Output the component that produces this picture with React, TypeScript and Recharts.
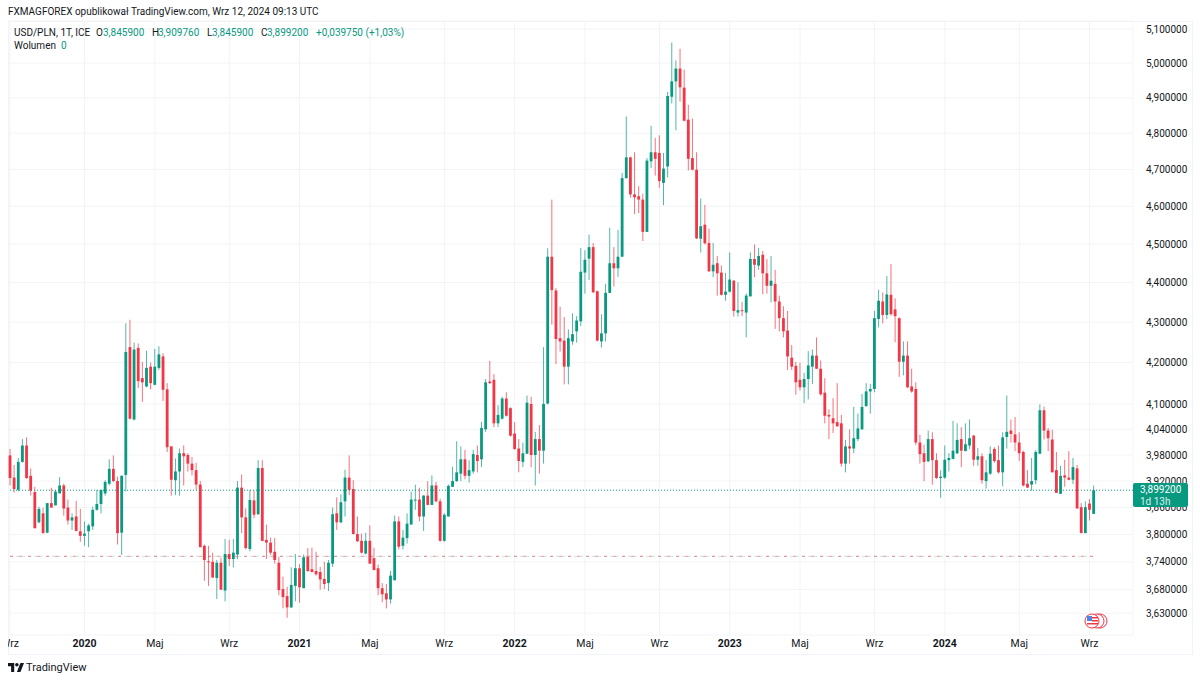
import { Bar, CartesianGrid, ComposedChart, ReferenceLine, XAxis, YAxis } from 'recharts'

const FONT = 'Roboto, "Noto Sans", sans-serif'
const UP = '#089981'
const DOWN = '#F23645'
const TEXT = '#131722'

// weekly USD/PLN candles
const opens = [
  3.979, 3.928, 3.9, 3.964, 4.002, 3.932, 3.895, 3.827, 3.847, 3.804,
  3.87, 3.865, 3.892, 3.91, 3.86, 3.831, 3.84, 3.807, 3.797, 3.807,
  3.818, 3.855, 3.868, 3.892, 3.914, 3.948, 3.92, 3.804, 3.934, 4.238,
  4.063, 4.236, 4.162, 4.142, 4.19, 4.146, 4.187, 4.215, 4.135, 4.0,
  3.922, 3.942, 3.984, 3.98, 3.96, 3.945, 3.912, 3.775, 3.741, 3.74,
  3.705, 3.738, 3.678, 3.757, 3.746, 3.756, 3.905, 3.838, 3.768, 3.876,
  3.845, 3.95, 3.788, 3.782, 3.762, 3.738, 3.681, 3.666, 3.642, 3.688,
  3.726, 3.683, 3.751, 3.724, 3.72, 3.718, 3.703, 3.694, 3.736, 3.847,
  3.827, 3.874, 3.928, 3.902, 3.801, 3.786, 3.758, 3.786, 3.748, 3.726,
  3.683, 3.672, 3.659, 3.7, 3.829, 3.775, 3.792, 3.822, 3.876, 3.878,
  3.84, 3.887, 3.866, 3.91, 3.874, 3.786, 3.84, 3.907, 3.92, 3.937,
  3.97, 3.932, 3.942, 3.98, 3.97, 4.04, 4.154, 4.158, 4.054, 4.065,
  4.113, 4.09, 4.03, 3.995, 3.964, 3.983, 4.1, 3.98, 4.017, 3.99,
  4.101, 4.467, 4.38, 4.26, 4.254, 4.19, 4.252, 4.277, 4.302, 4.426,
  4.462, 4.492, 4.378, 4.252, 4.272, 4.374, 4.45, 4.437, 4.467, 4.676,
  4.733, 4.632, 4.627, 4.618, 4.532, 4.722, 4.747, 4.745, 4.663, 4.708,
  4.903, 4.947, 4.984, 4.929, 4.838, 4.731, 4.699, 4.514, 4.551, 4.503,
  4.429, 4.45, 4.426, 4.369, 4.377, 4.405, 4.324, 4.33, 4.324, 4.365,
  4.461, 4.444, 4.472, 4.424, 4.392, 4.397, 4.352, 4.31, 4.279, 4.212,
  4.192, 4.158, 4.14, 4.16, 4.19, 4.217, 4.185, 4.127, 4.074, 4.066,
  4.057, 4.054, 3.96, 4.0, 3.995, 4.017, 4.04, 4.095, 4.13, 4.136,
  4.308, 4.352, 4.318, 4.369, 4.332, 4.31, 4.202, 4.217, 4.142, 4.136,
  4.009, 3.984, 3.965, 4.017, 3.968, 3.927, 3.928, 3.968, 3.971, 3.984,
  4.017, 3.989, 4.002, 4.025, 3.969, 3.977, 3.92, 3.937, 3.994, 3.968,
  3.94, 4.022, 4.037, 4.028, 4.009, 3.987, 3.914, 3.912, 3.922, 3.983,
  4.085, 4.037, 4.016, 3.945, 3.891, 3.933, 3.928, 3.923, 3.949, 3.861,
  3.803, 3.869, 3.8459,
]
const highs = [
  3.994, 3.957, 3.973, 4.017, 4.021, 3.949, 3.907, 3.862, 3.86, 3.87,
  3.905, 3.9, 3.929, 3.914, 3.878, 3.847, 3.875, 3.857, 3.829, 3.824,
  3.862, 3.9, 3.9, 3.922, 3.97, 3.979, 3.93, 3.933, 4.297, 4.306,
  4.249, 4.247, 4.202, 4.229, 4.2, 4.234, 4.24, 4.223, 4.15, 4.0,
  3.972, 3.995, 4.002, 3.984, 3.975, 3.962, 3.92, 3.778, 3.775, 3.76,
  3.744, 3.749, 3.79, 3.788, 3.79, 3.92, 3.935, 3.858, 3.9, 3.898,
  3.968, 3.968, 3.822, 3.793, 3.792, 3.751, 3.708, 3.686, 3.728, 3.757,
  3.735, 3.756, 3.77, 3.771, 3.762, 3.729, 3.74, 3.744, 3.86, 3.883,
  3.89, 3.946, 3.979, 3.922, 3.84, 3.802, 3.804, 3.82, 3.771, 3.734,
  3.694, 3.692, 3.72, 3.842, 3.84, 3.81, 3.847, 3.896, 3.912, 3.905,
  3.888, 3.92, 3.933, 3.918, 3.88, 3.847, 3.912, 3.953, 4.012, 4.0,
  3.992, 3.968, 3.992, 4.002, 4.057, 4.16, 4.204, 4.172, 4.097, 4.117,
  4.128, 4.092, 4.057, 4.017, 4.009, 4.12, 4.117, 4.034, 4.05, 4.238,
  4.489, 4.618, 4.386, 4.339, 4.313, 4.282, 4.322, 4.315, 4.49, 4.484,
  4.525, 4.503, 4.38, 4.32, 4.397, 4.543, 4.492, 4.537, 4.69, 4.847,
  4.735, 4.747, 4.654, 4.634, 4.731, 4.821, 4.787, 4.794, 4.745, 4.917,
  5.06, 5.008, 5.042, 4.981, 4.88, 4.841, 4.747, 4.621, 4.604, 4.541,
  4.503, 4.469, 4.444, 4.425, 4.478, 4.407, 4.401, 4.351, 4.372, 4.478,
  4.499, 4.49, 4.482, 4.461, 4.469, 4.433, 4.367, 4.34, 4.328, 4.243,
  4.202, 4.2, 4.175, 4.228, 4.232, 4.262, 4.205, 4.162, 4.087, 4.114,
  4.15, 4.074, 4.015, 4.04, 4.093, 4.077, 4.124, 4.15, 4.148, 4.328,
  4.382, 4.375, 4.417, 4.448, 4.36, 4.312, 4.252, 4.252, 4.185, 4.152,
  4.027, 4.004, 4.037, 4.033, 3.984, 3.945, 4.002, 3.984, 4.06, 4.054,
  4.045, 4.054, 4.063, 4.027, 3.996, 3.984, 3.968, 4.0, 3.998, 4.002,
  4.033, 4.12, 4.063, 4.069, 4.033, 3.99, 3.945, 3.973, 3.991, 4.099,
  4.094, 4.043, 4.039, 3.987, 3.955, 3.969, 3.989, 3.973, 3.957, 3.87,
  3.874, 3.879, 3.90976,
]
const lows = [
  3.91, 3.894, 3.896, 3.962, 3.925, 3.887, 3.813, 3.825, 3.802, 3.803,
  3.86, 3.865, 3.892, 3.842, 3.822, 3.81, 3.807, 3.784, 3.775, 3.772,
  3.81, 3.853, 3.847, 3.887, 3.91, 3.918, 3.778, 3.755, 3.896, 4.063,
  4.061, 4.138, 4.105, 4.14, 4.135, 4.145, 4.182, 4.107, 3.987, 3.887,
  3.888, 3.887, 3.91, 3.942, 3.933, 3.9, 3.772, 3.699, 3.688, 3.705,
  3.66, 3.679, 3.655, 3.731, 3.728, 3.746, 3.803, 3.767, 3.763, 3.836,
  3.844, 3.785, 3.746, 3.755, 3.736, 3.668, 3.64, 3.62, 3.641, 3.655,
  3.652, 3.683, 3.718, 3.717, 3.71, 3.68, 3.681, 3.677, 3.729, 3.81,
  3.825, 3.84, 3.888, 3.8, 3.783, 3.758, 3.756, 3.736, 3.722, 3.668,
  3.653, 3.64, 3.65, 3.7, 3.767, 3.767, 3.78, 3.822, 3.855, 3.829,
  3.808, 3.865, 3.866, 3.872, 3.784, 3.784, 3.84, 3.907, 3.918, 3.92,
  3.924, 3.917, 3.937, 3.94, 3.952, 4.034, 4.148, 4.045, 4.045, 4.063,
  4.07, 4.023, 3.992, 3.94, 3.952, 3.982, 3.952, 3.91, 3.937, 3.96,
  4.099, 4.294, 4.196, 4.227, 4.147, 4.147, 4.244, 4.249, 4.29, 4.372,
  4.407, 4.375, 4.252, 4.237, 4.252, 4.373, 4.39, 4.415, 4.466, 4.675,
  4.623, 4.579, 4.582, 4.508, 4.532, 4.704, 4.683, 4.65, 4.603, 4.678,
  4.884, 4.808, 4.889, 4.833, 4.697, 4.697, 4.513, 4.478, 4.499, 4.428,
  4.414, 4.367, 4.367, 4.354, 4.375, 4.314, 4.314, 4.315, 4.262, 4.365,
  4.414, 4.433, 4.37, 4.372, 4.35, 4.283, 4.277, 4.262, 4.182, 4.182,
  4.122, 4.132, 4.102, 4.111, 4.148, 4.184, 4.12, 4.054, 4.017, 4.031,
  4.046, 3.953, 3.94, 3.96, 3.984, 4.012, 4.039, 4.093, 4.077, 4.128,
  4.287, 4.297, 4.308, 4.316, 4.25, 4.165, 4.169, 4.138, 4.127, 4.003,
  3.96, 3.92, 3.965, 3.912, 3.925, 3.882, 3.925, 3.942, 3.97, 3.982,
  3.952, 3.989, 3.994, 3.955, 3.955, 3.914, 3.903, 3.934, 3.962, 3.937,
  3.908, 3.995, 4.009, 3.989, 3.966, 3.908, 3.905, 3.898, 3.913, 3.982,
  4.016, 3.989, 3.94, 3.893, 3.891, 3.907, 3.922, 3.913, 3.858, 3.803,
  3.803, 3.831, 3.8459,
]
const closes = [
  3.927, 3.902, 3.964, 4.002, 3.927, 3.898, 3.814, 3.857, 3.803, 3.87,
  3.86, 3.896, 3.91, 3.858, 3.831, 3.838, 3.808, 3.797, 3.802, 3.82,
  3.855, 3.868, 3.9, 3.918, 3.948, 3.92, 3.803, 3.932, 4.226, 4.065,
  4.232, 4.155, 4.152, 4.187, 4.15, 4.19, 4.22, 4.134, 3.998, 3.923,
  3.942, 3.984, 3.977, 3.96, 3.945, 3.912, 3.772, 3.744, 3.74, 3.706,
  3.738, 3.68, 3.757, 3.746, 3.76, 3.905, 3.838, 3.77, 3.877, 3.844,
  3.95, 3.786, 3.782, 3.76, 3.744, 3.679, 3.664, 3.642, 3.69, 3.726,
  3.685, 3.75, 3.72, 3.718, 3.713, 3.702, 3.692, 3.738, 3.845, 3.827,
  3.872, 3.928, 3.9, 3.801, 3.785, 3.76, 3.786, 3.736, 3.722, 3.683,
  3.67, 3.659, 3.71, 3.829, 3.773, 3.793, 3.824, 3.878, 3.878, 3.84,
  3.887, 3.866, 3.91, 3.874, 3.786, 3.844, 3.909, 3.92, 3.94, 3.97,
  3.932, 3.945, 3.982, 3.966, 4.043, 4.152, 4.15, 4.054, 4.074, 4.113,
  4.072, 4.025, 3.994, 3.966, 3.984, 4.103, 3.98, 4.017, 3.99, 4.1,
  4.467, 4.381, 4.258, 4.252, 4.19, 4.26, 4.27, 4.304, 4.428, 4.459,
  4.492, 4.375, 4.254, 4.272, 4.374, 4.45, 4.437, 4.467, 4.676, 4.733,
  4.632, 4.624, 4.618, 4.532, 4.724, 4.747, 4.729, 4.668, 4.702, 4.905,
  4.947, 4.984, 4.93, 4.835, 4.729, 4.699, 4.515, 4.547, 4.502, 4.429,
  4.446, 4.424, 4.369, 4.377, 4.408, 4.328, 4.33, 4.328, 4.367, 4.461,
  4.446, 4.469, 4.424, 4.392, 4.405, 4.352, 4.31, 4.277, 4.215, 4.19,
  4.152, 4.14, 4.16, 4.193, 4.217, 4.185, 4.123, 4.072, 4.07, 4.054,
  4.047, 3.96, 4.0, 3.995, 4.019, 4.042, 4.093, 4.13, 4.136, 4.31,
  4.354, 4.318, 4.37, 4.32, 4.315, 4.202, 4.217, 4.14, 4.13, 4.009,
  3.982, 3.964, 4.017, 3.968, 3.927, 3.93, 3.969, 3.973, 3.99, 4.015,
  3.99, 4.005, 4.019, 3.969, 3.977, 3.922, 3.94, 3.983, 3.966, 3.94,
  4.021, 4.034, 4.029, 4.009, 3.984, 3.91, 3.905, 3.92, 3.987, 4.085,
  4.037, 4.019, 3.94, 3.893, 3.932, 3.928, 3.923, 3.952, 3.858, 3.803,
  3.861, 3.855, 3.8992,
]

const priceTicks = [
  3.63, 3.68, 3.74, 3.8, 3.86, 3.92, 3.98, 4.04, 4.1, 4.2, 4.3, 4.4, 4.5, 4.6, 4.7, 4.8, 4.9, 5.0, 5.1,
]
const timeTicks = [0, 18, 35, 53, 70, 87, 105, 122, 139, 157, 174, 191, 209, 226, 244, 261]
const timeLabels = [
  'Wrz', '2020', 'Maj', 'Wrz', '2021', 'Maj', 'Wrz', '2022', 'Maj', 'Wrz', '2023', 'Maj', 'Wrz', '2024', 'Maj', 'Wrz',
]
const lastClose = 3.8992
const lineLevel = 3.752
const emptyWeeks = 9

const chartData = Array.from({ length: opens.length + emptyWeeks }, (_, i) => ({
  week: i,
  open: opens[i],
  high: highs[i],
  low: lows[i],
  close: closes[i],
}))

function Candle(props: any) {
  const { x, y, width, height, payload } = props
  if (payload == null || payload.open === undefined) return null
  const { open, high, low, close } = payload
  const top = Math.min(y, y + height)
  const h = Math.abs(height)
  const range = Math.log(high) - Math.log(low)
  // bar spans low..high on the log axis, so the body is placed in log terms
  const yOf = (v: number) => top + (h * (Math.log(high) - Math.log(v))) / range
  const color = close >= open ? UP : DOWN
  const bodyTop = yOf(Math.max(open, close))
  const bodyH = Math.max(yOf(Math.min(open, close)) - bodyTop, 1)
  const cx = x + width / 2
  return (
    <g>
      <rect x={cx - 0.5} y={top} width={1} height={h} fill={color} fillOpacity={0.7} />
      <rect x={cx - 1.4} y={bodyTop} width={2.8} height={bodyH} fill={color} />
    </g>
  )
}

function TimeTick(props: any) {
  const { x, y, payload } = props
  const label = timeLabels[timeTicks.indexOf(payload.value)]
  const isYear = /^\d+$/.test(label)
  return (
    <text
      x={x}
      y={y + 4}
      textAnchor="middle"
      fontFamily={FONT}
      fontSize={10.5}
      fontWeight={isYear ? 700 : 400}
      fill={TEXT}
    >
      {label}
    </text>
  )
}

const legendItem = (left: number, top: number, text: string, color = TEXT) => (
  <span style={{ position: 'absolute', left, top, color, whiteSpace: 'nowrap', lineHeight: '12px' }}>{text}</span>
)

export default function App() {
  return (
    <div
      style={{
        position: 'absolute',
        left: 0,
        top: 0,
        width: 1200,
        height: 681,
        background: '#fff',
        overflow: 'hidden',
        fontFamily: FONT,
        fontSize: 10,
      }}
    >
      <div style={{ position: 'absolute', left: 8, top: 21, width: 1183, height: 632, border: '1px solid #f0f3fa' }} />
      <div style={{ position: 'absolute', left: 8, top: 0, width: 1184, height: 654, overflow: 'hidden' }}>
        <ComposedChart
          width={1184}
          height={654}
          data={chartData}
          margin={{ top: 21, right: 0, bottom: 0, left: 0 }}
          barCategoryGap={0}
        >
          <CartesianGrid stroke="#f3f4f8" strokeWidth={1} />
          <XAxis
            dataKey="week"
            type="category"
            ticks={timeTicks}
            interval={0}
            axisLine={false}
            tickLine={false}
            height={19}
            tick={<TimeTick />}
          />
          <YAxis
            orientation="right"
            scale="log"
            domain={[3.584, 5.124]}
            allowDataOverflow
            ticks={priceTicks}
            interval={0}
            width={59}
            axisLine={false}
            tickLine={false}
            tickMargin={7}
            tick={{ fontSize: 10, fontFamily: FONT, fill: TEXT }}
            tickFormatter={(v: number) => v.toFixed(6).replace('.', ',')}
          />
          <ReferenceLine y={lastClose} stroke={UP} strokeDasharray="1 2" strokeWidth={1} />
          <ReferenceLine
            segment={[
              { x: 0, y: lineLevel },
              { x: opens.length - 1, y: lineLevel },
            ]}
            stroke={UP}
            strokeOpacity={0.25}
            strokeDasharray="3 3"
          />
          <ReferenceLine
            segment={[
              { x: 0, y: lineLevel },
              { x: opens.length - 1, y: lineLevel },
            ]}
            stroke={DOWN}
            strokeOpacity={0.55}
            strokeDasharray="3 6"
          />
          <Bar
            dataKey={(d: any) => (d.open === undefined ? null : [d.low, d.high])}
            shape={<Candle />}
            isAnimationActive={false}
          />
        </ComposedChart>
      </div>

      {legendItem(8, 6, 'FXMAGFOREX opublikował TradingView.com, Wrz 12, 2024 09:13 UTC')}
      {legendItem(14, 27, 'USD/PLN, 1T, ICE')}
      {legendItem(96, 27, 'O')}
      {legendItem(103, 27, '3,845900', UP)}
      {legendItem(152, 27, 'H')}
      {legendItem(158, 27, '3,909760', UP)}
      {legendItem(207, 27, 'L')}
      {legendItem(212, 27, '3,845900', UP)}
      {legendItem(261, 27, 'C')}
      {legendItem(267, 27, '3,899200', UP)}
      {legendItem(316, 27, '+0,039750 (+1,03%)', UP)}
      {legendItem(14, 40, 'Wolumen')}
      {legendItem(61, 40, '0', UP)}

      <div
        style={{
          position: 'absolute',
          left: 1133,
          top: 483,
          width: 55,
          height: 24,
          background: UP,
          borderRadius: 2,
          color: '#fff',
          lineHeight: '11.5px',
          paddingLeft: 7,
          paddingTop: 1,
          boxSizing: 'border-box',
        }}
      >
        <div>3,899200</div>
        <div style={{ opacity: 0.85 }}>1d 13h</div>
      </div>

      <svg style={{ position: 'absolute', left: 1084, top: 611 }} width={24} height={20}>
        <circle cx={16} cy={10} r={7} fill="#fff" stroke="#F23645" strokeWidth={1} />
        <circle cx={13} cy={10} r={7} fill="#fff" stroke="#F23645" strokeWidth={1} />
        <circle cx={8} cy={10} r={7} fill="#fff" stroke="#F23645" strokeWidth={1} />
        <rect x={3} y={5} width={5} height={5} fill="#4a86e8" />
        <rect x={8} y={6} width={6} height={1.5} fill="#F23645" />
        <rect x={8} y={9} width={6} height={1.5} fill="#F23645" />
        <rect x={3} y={12} width={11} height={1.5} fill="#F23645" />
      </svg>

      <svg style={{ position: 'absolute', left: 8, top: 663 }} width={16} height={9} viewBox="0 0 36 20">
        <path d="M14 20H7V7H0V0h14v20z" fill={TEXT} />
        <circle cx={20} cy={4} r={4} fill={TEXT} />
        <path d="M28 0h8l-8 20h-8l8-20z" fill={TEXT} />
      </svg>
      <span style={{ position: 'absolute', left: 26, top: 661, color: TEXT, fontSize: 11, lineHeight: '14px' }}>
        TradingView
      </span>
    </div>
  )
}
